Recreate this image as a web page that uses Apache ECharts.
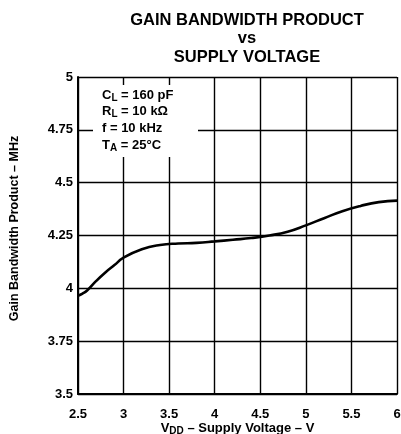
<!DOCTYPE html>
<html><head><meta charset="utf-8">
<script src="https://cdn.jsdelivr.net/npm/echarts@6/dist/echarts.min.js"></script>
<style>html,body{margin:0;padding:0;background:#fff}#c{width:401px;height:434px}</style>
</head><body><div id="c"></div>
<script>
const voltage = [2.5, 2.55, 2.6, 2.7, 2.8, 2.9, 3.0, 3.2, 3.4, 3.6, 3.8, 4.0, 4.2, 4.4, 4.6, 4.8, 5.0, 5.2, 5.4, 5.6, 5.8, 6.0];
const gbw = [3.965, 3.975, 3.99, 4.035, 4.075, 4.11, 4.145, 4.185, 4.205, 4.212, 4.215, 4.222, 4.23, 4.238, 4.25, 4.268, 4.298, 4.332, 4.365, 4.39, 4.408, 4.415];
const xTicks = [2.5, 3, 3.5, 4, 4.5, 5, 5.5, 6];
const yTicks = [3.5, 3.75, 4, 4.25, 4.5, 4.75, 5];

const F = '"Liberation Sans", Arial, sans-serif';
const chart = echarts.init(document.getElementById('c'), null, {renderer: 'canvas'});
chart.setOption({
  animation: false,
  backgroundColor: '#fff',
  title: {
    text: 'GAIN BANDWIDTH PRODUCT\nvs\nSUPPLY VOLTAGE',
    left: 242, top: 6, textAlign: 'center',
    textStyle: {fontFamily: F, fontSize: 16.5, fontWeight: 'bold', color: '#000', lineHeight: 18.5}
  },
  grid: {left: 78, right: 4, top: 77, bottom: 40, containLabel: false, outerBoundsMode: 'none'},
  xAxis: {
    type: 'value', min: xTicks[0], max: xTicks[xTicks.length - 1], interval: 0.5,
    name: '{v|V}{s|DD}{n| – Supply Voltage – V}',
    nameLocation: 'middle', nameGap: 27, nameMoveOverlap: false,
    nameTextStyle: {
      rich: {
        v: {fontFamily: F, fontSize: 13, fontWeight: 'bold', color: '#000'},
        s: {fontFamily: F, fontSize: 10, fontWeight: 'bold', color: '#000', padding: [5, 0, 0, 0]},
        n: {fontFamily: F, fontSize: 13, fontWeight: 'bold', color: '#000'}
      }
    },
    axisLine: {lineStyle: {color: '#000', width: 2}},
    axisTick: {show: false},
    axisLabel: {fontFamily: F, fontSize: 13, fontWeight: 'bold', color: '#000', margin: 14, showMaxLabel: true},
    splitLine: {show: true, lineStyle: {color: '#000', width: 1.4}}
  },
  yAxis: {
    type: 'value', min: yTicks[0], max: yTicks[yTicks.length - 1], interval: 0.25,
    name: 'Gain Bandwidth Product – MHz',
    nameLocation: 'middle', nameGap: 57, nameMoveOverlap: false,
    nameTextStyle: {fontFamily: F, fontSize: 12.5, fontWeight: 'bold', color: '#000', padding: [0, 0, 0, 14]},
    axisLine: {show: true, lineStyle: {color: '#000', width: 2}},
    axisTick: {show: false},
    axisLabel: {fontFamily: F, fontSize: 13, fontWeight: 'bold', color: '#000', margin: 5},
    splitLine: {show: true, lineStyle: {color: '#000', width: 1.4}}
  },
  graphic: [
    {type: 'rect', shape: {x: 93, y: 85, width: 105, height: 72}, style: {fill: '#fff'}, z: 10},
    {type: 'text', left: 102, top: 87, z: 11, style: {
      text: '{a|C}{s|L}{a| = 160 pF}\n{a|R}{s|L}{a| = 10 kΩ}\n{a|f = 10 kHz}\n{a|T}{s|A}{a| = 25°C}',
      rich: {
        a: {fontFamily: F, fontSize: 13, fontWeight: 'bold', fill: '#000', lineHeight: 16.7},
        s: {fontFamily: F, fontSize: 10, fontWeight: 'bold', fill: '#000', padding: [6, 0, 0, 0], lineHeight: 16.7}
      }
    }}
  ],
  series: [{
    type: 'line', smooth: true, showSymbol: false,
    data: voltage.map((v, i) => [v, gbw[i]]),
    lineStyle: {color: '#000', width: 2.6},
    z: 5
  }]
});
</script></body></html>
